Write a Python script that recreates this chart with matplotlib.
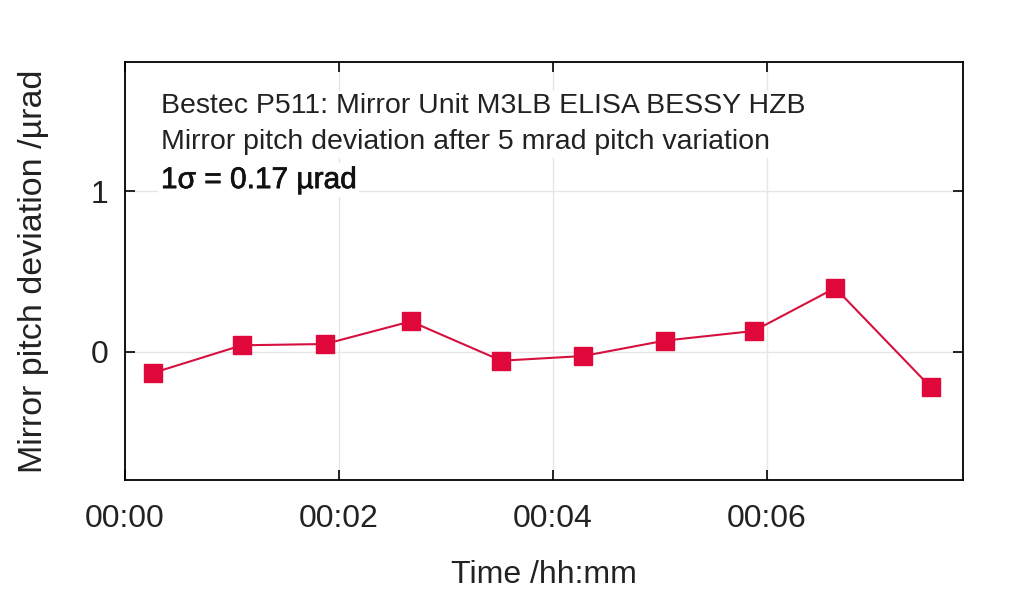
import numpy as np
import matplotlib
matplotlib.use('Agg')
import matplotlib.pyplot as plt
import matplotlib.patheffects as pe
from matplotlib.ticker import FuncFormatter

# Sample times (minutes after start) and pitch deviation (urad)
time_min = [0.259, 1.093, 1.872, 2.673, 3.520, 4.285, 5.047, 5.879, 6.641, 7.533]
pitch_dev = [-0.134, 0.039, 0.047, 0.188, -0.057, -0.028, 0.068, 0.128, 0.396, -0.221]

x_ticks = [0, 2, 4, 6]
y_ticks = [0, 1]

info_lines = ["Bestec P511: Mirror Unit M3LB ELISA BESSY HZB",
              "Mirror pitch deviation after 5 mrad pitch variation",
              "1\u03c3 = 0.17 \u00b5rad"]

plt.rcParams['font.family'] = ['Liberation Sans', 'DejaVu Sans']
txt_col = '#222222'

fig = plt.figure(figsize=(10.24, 5.94), dpi=100)
ax = fig.add_axes([0.122, 0.192, 0.818, 0.7036])

ax.plot(time_min, pitch_dev, color='#d6103f', lw=1.5, marker='s',
        markersize=13, markerfacecolor='#e0073a', markeredgecolor='#e0073a', zorder=3)

ax.set_xlim(0, 7.832)
ax.set_ylim(-0.80, 1.804)
ax.set_xticks(x_ticks)
ax.set_yticks(y_ticks)
ax.xaxis.set_major_formatter(FuncFormatter(lambda v, p: "%02d:%02d" % (int(v) // 60, int(round(v)) % 60)))
ax.grid(True, color='#e6e6e6', lw=1)
ax.set_axisbelow(True)
ax.tick_params(direction='in', top=True, right=True, length=7, width=1.2,
               labelsize=23, labelcolor=txt_col)
ax.tick_params(axis='x', pad=17)
ax.tick_params(axis='y', pad=12)
for s in ax.spines.values():
    s.set_linewidth(1.3)

ax.set_xlabel("Time /hh:mm", fontsize=23, color=txt_col, labelpad=19)
ax.set_ylabel("Mirror pitch deviation /\u00b5rad", fontsize=24.5, color=txt_col, labelpad=30)

ax.text(0.043, 0.925, "\n".join(info_lines[:2]), transform=ax.transAxes, fontsize=20.5,
        va='top', ha='left', linespacing=1.5, color=txt_col,
        bbox=dict(facecolor='white', edgecolor='none', pad=2))
ax.text(0.043, 0.684, info_lines[2], transform=ax.transAxes, fontsize=21.5,
        va='bottom', ha='left', color='#111111',
        path_effects=[pe.withStroke(linewidth=0.5, foreground='#111111')],
        bbox=dict(facecolor='white', edgecolor='none', pad=2))

fig.savefig('out.png', dpi=100)
